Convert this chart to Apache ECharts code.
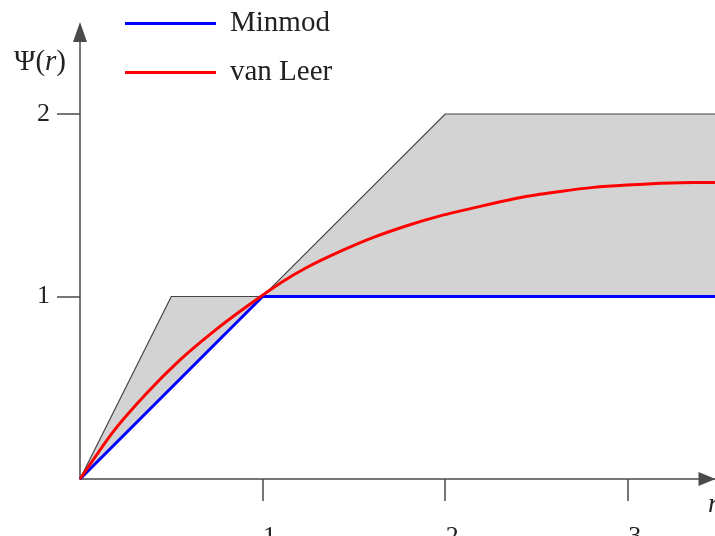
<!DOCTYPE html>
<html>
<head>
<meta charset="utf-8">
<script src="https://cdn.jsdelivr.net/npm/echarts@6/dist/echarts.min.js"></script>
<style>
  html, body { margin: 0; padding: 0; background: #fff; }
  #chart { width: 715px; height: 536px; }
</style>
</head>
<body>
<div id="chart"></div>
<script>
// Axis ranges and tick positions
const xMax = 3.478;
const yMax = 2.45;
const xTicks = [1, 2, 3];
const yTicks = [1, 2];

// Upper bound of the second-order TVD region (superbee)
const upperR   = [0, 0.5, 1, 2, 3.478];
const upperPsi = [0, 1,   1, 2, 2];

// Minmod limiter (also lower bound of the region)
const minmodR   = [0, 1, 3.478];
const minmodPsi = [0, 1, 1];

// van Leer limiter
const vanLeerR   = [0, 0.183, 0.365, 0.548, 0.731, 0.913, 1.096, 1.242, 1.425, 1.607, 1.790, 1.973, 2.192, 2.448, 2.630, 2.813, 2.996, 3.178, 3.360, 3.478];
const vanLeerPsi = [0, 0.261, 0.470, 0.653, 0.808, 0.945, 1.073, 1.159, 1.247, 1.324, 1.388, 1.442, 1.494, 1.549, 1.576, 1.598, 1.611, 1.620, 1.625, 1.625];

const FONT = 'Liberation Serif';
const INK = '#222';
const AXIS = '#4a4a4a';

const zip = (a, b) => a.map((v, i) => [v, b[i]]);

const chart = echarts.init(document.getElementById('chart'), null, { renderer: 'canvas' });

chart.setOption({
  animation: false,
  backgroundColor: '#fff',
  grid: { left: 80, right: 0, top: 31.9, bottom: 57, containLabel: false, outerBoundsMode: 'none' },
  legend: {
    orient: 'vertical',
    left: 120,
    top: 4,
    icon: 'rect',
    itemWidth: 91,
    itemHeight: 3,
    itemGap: 20,
    data: ['Minmod', 'van Leer'],
    textStyle: { fontFamily: FONT, fontSize: 29, color: INK, lineHeight: 26, padding: [0, 0, 0, 9] }
  },
  xAxis: {
    type: 'value',
    min: 0,
    max: xMax,
    splitLine: { show: false },
    axisLine: {
      onZero: false,
      lineStyle: { color: AXIS, width: 1.5 },
      symbol: ['none', 'triangle'],
      symbolSize: [14, 17],
      symbolOffset: [0, -8]
    },
    axisTick: { customValues: xTicks, length: 22, lineStyle: { color: AXIS, width: 1.5 } },
    axisLabel: {
      customValues: xTicks,
      margin: 45,
      fontFamily: FONT,
      fontSize: 26,
      color: INK,
      padding: [0, 0, 0, 14]
    }
  },
  yAxis: {
    type: 'value',
    min: 0,
    max: yMax,
    splitLine: { show: false },
    axisLine: {
      onZero: false,
      lineStyle: { color: AXIS, width: 1.5 },
      symbol: ['none', 'triangle'],
      symbolSize: [14, 20]
    },
    axisTick: { customValues: yTicks, length: 23, lineStyle: { color: AXIS, width: 1.5 } },
    axisLabel: {
      customValues: yTicks,
      margin: 30,
      fontFamily: FONT,
      fontSize: 26,
      color: INK,
      padding: [0, 0, 18, 0]
    }
  },
  graphic: [
    {
      type: 'text',
      style: {
        x: 40, y: 62,
        text: '{n|Ψ(}{i|r}{n|)}',
        align: 'center', verticalAlign: 'middle',
        rich: {
          n: { fontFamily: FONT, fontSize: 29, fill: INK },
          i: { fontFamily: FONT, fontSize: 29, fontStyle: 'italic', fill: INK }
        }
      }
    },
    {
      type: 'text',
      style: {
        x: 708, y: 505,
        text: 'r',
        fontFamily: FONT, fontSize: 27, fontStyle: 'italic', fill: INK,
        align: 'left', verticalAlign: 'middle'
      }
    }
  ],
  series: [
    {
      // Shaded TVD region between minmod and superbee
      name: 'TVD region',
      type: 'custom',
      z: 1,
      silent: true,
      data: [[0, 0]],
      renderItem: function (params, api) {
        const upper = upperR.map((r, i) => api.coord([r, upperPsi[i]]));
        const lower = minmodR.map((r, i) => api.coord([r, minmodPsi[i]])).reverse();
        return {
          type: 'group',
          children: [
            {
              type: 'polygon',
              shape: { points: upper.concat(lower) },
              style: { fill: '#d3d3d3', stroke: null }
            },
            {
              type: 'polyline',
              shape: { points: upper },
              style: { fill: null, stroke: '#444', lineWidth: 1.2 }
            }
          ]
        };
      }
    },
    {
      name: 'Minmod',
      type: 'line',
      z: 3,
      data: zip(minmodR, minmodPsi),
      showSymbol: false,
      symbol: 'none',
      color: '#0000ff',
      itemStyle: { color: '#0000ff' },
      lineStyle: { color: '#0000ff', width: 3 }
    },
    {
      name: 'van Leer',
      type: 'line',
      z: 4,
      data: zip(vanLeerR, vanLeerPsi),
      smooth: 0.2,
      showSymbol: false,
      symbol: 'none',
      color: '#ff0000',
      itemStyle: { color: '#ff0000' },
      lineStyle: { color: '#ff0000', width: 3 }
    }
  ]
});
</script>
</body>
</html>
